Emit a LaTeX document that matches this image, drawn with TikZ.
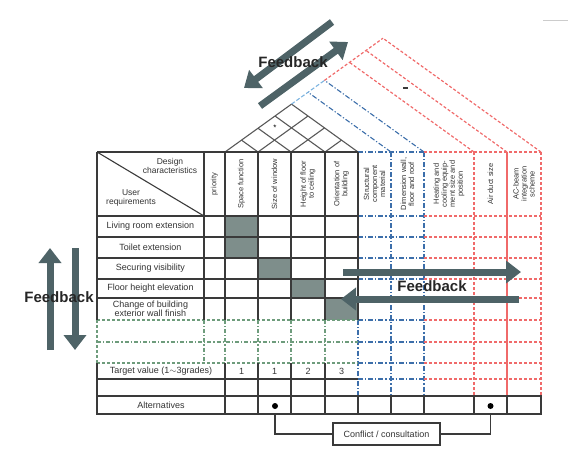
\documentclass[tikz,border=0pt]{standalone}
\usepackage{fontspec}
\setmainfont{Liberation Sans}
\usetikzlibrary{arrows.meta}
\definecolor{gridc}{HTML}{3A3A3A}
\definecolor{fbc}{HTML}{4E6367}
\definecolor{cellc}{HTML}{7E8E8B}
\definecolor{redl}{HTML}{F06A6A}
\definecolor{bluel}{HTML}{3C6EAA}
\definecolor{bluelt}{HTML}{7DB4E0}
\definecolor{greenl}{HTML}{6E9C7C}
\begin{document}
\begin{tikzpicture}[x=1pt,y=-1pt,
  blk/.style={draw=gridc, line width=1.1pt},
  roofl/.style={draw=gridc!85, line width=1.1pt},
  reddash/.style={draw=redl, line width=1.2pt, dash pattern=on 3pt off 2pt},
  redsolid/.style={draw=redl, line width=1.1pt},
  bluedd/.style={draw=bluel, line width=1.1pt, dash pattern=on 5pt off 2pt on 1.2pt off 2pt},
  bluelite/.style={draw=bluelt, line width=1.1pt, dash pattern=on 4pt off 2pt},
  greend/.style={draw=greenl, line width=1.1pt, dash pattern=on 3pt off 2pt},
  greendd/.style={draw=greenl, line width=1.1pt, dash pattern=on 4pt off 2pt on 1.2pt off 2pt},
  fill cell/.style={fill=cellc, draw=none},
  fbarrow/.style={draw=fbc, line width=7pt, -{Triangle[length=15pt,width=22pt]}},
  fbtext/.style={font=\fontsize{15}{17}\selectfont\bfseries, text=black!85},
  rowtxt/.style={font=\fontsize{9}{10}\selectfont, text=black!80, align=center},
  hdtxt/.style={font=\fontsize{8.5}{9.5}\selectfont, text=black!80, align=center},
  coltxt/.style={font=\fontsize{7.5}{8}\selectfont, text=black!80, align=center, rotate=90},
]
\useasboundingbox (0,0) rectangle (572,448);

% cell fills
\fill[fill cell] (225,216) rectangle (258,258);
\fill[fill cell] (258,258) rectangle (291,279);
\fill[fill cell] (291,279) rectangle (325,298);
\fill[fill cell] (325,298) rectangle (358,320);

% roof: black part
\foreach \a in {225,258,291,325}
  \draw[roofl] (\a,152) -- ({(\a+358)/2},{152-(358-\a)/2*0.72});
\foreach \a in {258,291,325,358}
  \draw[roofl] (\a,152) -- ({(225+\a)/2},{152-(\a-225)/2*0.72});
% roof: blue band
\draw[bluelite] (291.5,104.1) -- (324.5,80.4);
\foreach \a in {391,424}
  \draw[bluedd] (\a,152) -- ({(225+\a)/2},{152-(\a-225)/2*0.72});
% roof: red band
\draw[reddash] (324.5,80.4) -- (383,38.2);
\foreach \a in {474,507,541}
  \draw[reddash] (\a,152) -- ({(225+\a)/2},{152-(\a-225)/2*0.72});
\node[font=\fontsize{8}{8}\selectfont] (star) at (275,128) {*};
\coordinate (m1) at (403,88);
\coordinate (m2) at (407.5,88);
\draw[gridc, line width=1.2pt] (m1) -- (m2);

% blue region grid
\foreach \y in {152,216,237,258,279,298,320,342,363,379}
  \draw[bluedd] (358,\y) -- (424,\y);
\draw[bluedd] (358,320) -- (358,396);
\foreach \x in {391,424}
  \draw[bluedd] (\x,152) -- (\x,396);
% red region grid
\foreach \y in {152,216,237,258,279,298,320,342,363,379}
  \draw[reddash] (424,\y) -- (541,\y);
\draw[reddash] (474,152) -- (474,396);
\draw[redsolid] (507,152) -- (507,396);
\draw[reddash] (541,152) -- (541,396);

% green region
\draw[greend] (97,320) -- (358,320);
\draw[greendd] (97,342) -- (358,342);
\draw[greend] (97,363) -- (358,363);
\draw[greend] (97,320) -- (97,363);
\foreach \x in {204,225,258,291,325}
  \draw[greendd] (\x,320) -- (\x,363);

% black table
\foreach \y in {152,216,237,258,279,298}
  \draw[blk] (97,\y) -- (358,\y);
\foreach \x in {97,204,225,258,291,325,358}
  \draw[blk] (\x,152) -- (\x,320);
\draw[blk] (97,152) -- (204,216);
\foreach \y in {379,396}
  \draw[blk] (97,\y) -- (358,\y);
\foreach \x in {97,225,258,291,325}
  \draw[blk] (\x,363) -- (\x,396);
\draw[blk] (97,396) rectangle (541,414);
\foreach \x in {225,258,291,325,358,391,424,474,507}
  \draw[blk] (\x,396) -- (\x,414);

% header texts
\node[hdtxt] (dc) at (170,166) {Design\\characteristics};
\node[hdtxt] (ur) at (131,198) {User\\requirements};
\node[coltxt] (h1) at (214.5,184) {priority};
\node[coltxt] (h2) at (241.5,184) {Space function};
\node[coltxt] (h3) at (274.5,184) {Size of window};
\node[coltxt] (h4) at (308,184) {Height of floor\\to ceiling};
\node[coltxt] (h5) at (341.5,184) {Orientation of\\building};
\node[coltxt] (h6) at (374.5,184) {Structural\\component\\material};
\node[coltxt] (h7) at (407.5,184) {Dimension wall,\\floor and roof};
\node[coltxt] (h8) at (449,184) {Heating and\\cooling equip-\\ment size and\\position};
\node[coltxt] (h9) at (490.5,184) {Air duct size};
\node[coltxt] (h10) at (524,184) {AC-beam\\integration\\scheme};

% row texts
\node[rowtxt] (r1) at (150.5,226.5) {Living room extension};
\node[rowtxt] (r2) at (150.5,247.5) {Toilet extension};
\node[rowtxt] (r3) at (150.5,268.5) {Securing visibility};
\node[rowtxt] (r4) at (150.5,288.5) {Floor height elevation};
\node[rowtxt, font=\fontsize{9}{9.4}\selectfont] (r5) at (150.5,309) {Change of building\\exterior wall finish};
\node[rowtxt] (tv) at (161,371) {Target value (1$\sim$3grades)};
\node[rowtxt] (t1) at (241.5,371) {1};
\node[rowtxt] (t2) at (274.5,371) {1};
\node[rowtxt] (t3) at (308,371) {2};
\node[rowtxt] (t4) at (341.5,371) {3};
\node[rowtxt] (alt) at (161,405) {Alternatives};

% alternatives dots and conflict box
\node[circle, fill=black, inner sep=0pt, minimum size=6pt] (d1) at (275,406) {};
\node[circle, fill=black, inner sep=0pt, minimum size=6pt] (d2) at (490.5,406) {};
\node[draw=gridc, line width=1.1pt, minimum width=107pt, minimum height=22pt, inner sep=0pt,
      font=\fontsize{9}{10}\selectfont, text=black!80] (cc) at (386.5,434) {Conflict / consultation};
\coordinate (d1b) at (275,414);
\coordinate (d2b) at (490.5,414);
\draw[blk] (d1b) |- (cc.west);
\draw[blk] (d2b) |- (cc.east);

% feedback arrows
\coordinate (a1s) at (332,22);
\coordinate (a1e) at (244,88);
\coordinate (a2s) at (260,106);
\coordinate (a2e) at (348,42);
\draw[fbarrow] (a1s) -- (a1e);
\draw[fbarrow] (a2s) -- (a2e);
\node[fbtext] (fbtop) at (293,62) {Feedback};

\coordinate (v1s) at (50,350);
\coordinate (v1e) at (50,248);
\coordinate (v2s) at (75,248);
\coordinate (v2e) at (75,350);
\draw[fbarrow] (v1s) -- (v1e);
\draw[fbarrow] (v2s) -- (v2e);
\node[fbtext] (fbleft) at (59,297) {Feedback};

\coordinate (hs1) at (343,272);
\coordinate (he1) at (521,272);
\coordinate (hs2) at (519,299);
\coordinate (he2) at (341,299);
\draw[fbarrow] (hs1) -- (he1);
\draw[fbarrow] (hs2) -- (he2);
\node[fbtext] (fbright) at (432,286) {Feedback};

% small grey mark top right
\coordinate (g1) at (543,20);
\coordinate (g2) at (568,20);
\draw[gray!40, line width=0.8pt] (g1) -- (g2);
\end{tikzpicture}
\end{document}
